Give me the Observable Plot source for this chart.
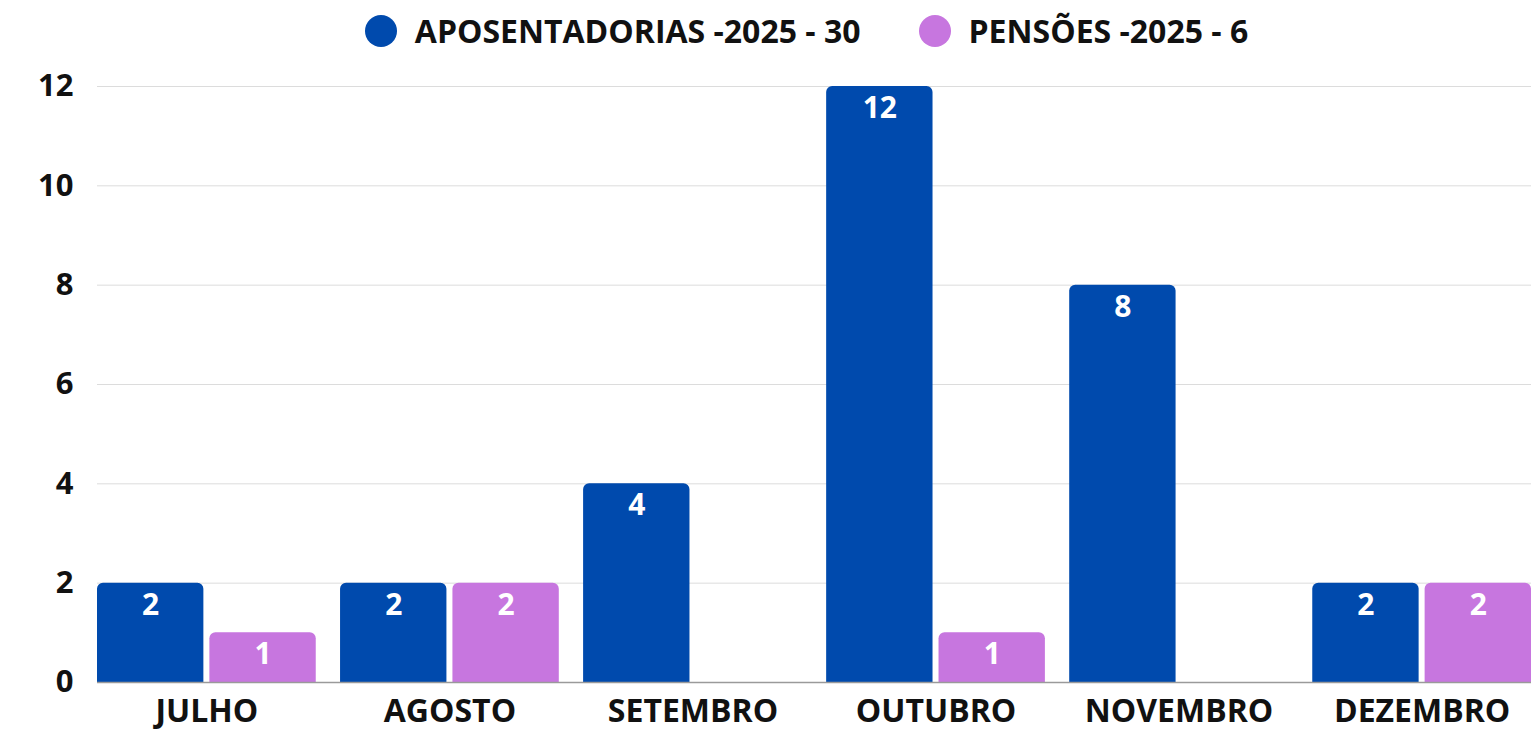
<!DOCTYPE html>
<html>
<head>
<meta charset="utf-8">
<script src="https://cdn.jsdelivr.net/npm/d3@7"></script>
<script src="https://cdn.jsdelivr.net/npm/@observablehq/plot@0.6"></script>
<style>
  html, body { margin: 0; padding: 0; background: #fff; }
  body { width: 1537px; height: 729px; overflow: hidden; font-family: "Open Sans", sans-serif; }
  #legend { height: 60px; display: flex; justify-content: center; align-items: center; gap: 58px; padding-left: 76px; padding-top: 2px; box-sizing: border-box; }
  .item { display: flex; align-items: center; gap: 18px; font-weight: 700; font-size: 32px; color: #111; line-height: 1; }
  .sw { width: 32px; height: 32px; border-radius: 50%; display: inline-block; }
</style>
</head>
<body>
<div id="legend"></div>
<div id="chart"></div>
<script>
const months = ["JULHO", "AGOSTO", "SETEMBRO", "OUTUBRO", "NOVEMBRO", "DEZEMBRO"];
const aposentadorias = [2, 2, 4, 12, 8, 2];
const pensoes = [1, 2, 0, 1, 0, 2];
const seriesNames = ["APOSENTADORIAS -2025 - 30", "PENSÕES -2025 - 6"];
const seriesColors = ["#004AAD", "#C776DF"];
const yTicks = [0, 2, 4, 6, 8, 10, 12];

const rows = [];
months.forEach((m, i) => {
  rows.push({month: m, series: seriesNames[0], value: aposentadorias[i], side: 0});
  rows.push({month: m, series: seriesNames[1], value: pensoes[i], side: 1});
});

// legend
const leg = document.getElementById("legend");
seriesNames.forEach((s, i) => {
  const it = document.createElement("div");
  it.className = "item";
  it.innerHTML = `<span class="sw" style="background:${seriesColors[i]}"></span><span>${s}</span>`;
  leg.appendChild(it);
});

const W = 1537, H = 669;
const mL = 97, mR = 6;
const padIn = 0.1;
const step = (W - mL - mR) / (months.length - padIn);
const bw = step * (1 - padIn);
const gap = 6;
const inset = bw / 2 + gap / 2;
const off = (bw / 2 - gap / 2) / 2 + gap / 2;

const blue = rows.filter(d => d.side === 0);
const pink = rows.filter(d => d.side === 1);
const fs = 31;

const chart = Plot.plot({
  width: W,
  height: H,
  marginLeft: mL,
  marginRight: mR,
  marginTop: 26,
  marginBottom: 47,
  style: {fontFamily: "Open Sans", fontWeight: 700, fontSize: fs + "px", color: "#111", background: "#fff", overflow: "visible"},
  x: {domain: months, paddingInner: padIn, paddingOuter: 0, round: false, label: null},
  y: {domain: [0, 12], ticks: yTicks, label: null},
  color: {domain: seriesNames, range: seriesColors},
  marks: [
    Plot.gridY(yTicks.filter(t => t > 0), {stroke: "#dcdcdc", strokeOpacity: 1}),
    Plot.rectY(blue, {x: "month", y: "value", fill: "series", insetRight: inset, ry2: 6}),
    Plot.rectY(pink.filter(d => d.value > 0), {x: "month", y: "value", fill: "series", insetLeft: inset, ry2: 6}),
    Plot.ruleY([0], {stroke: "#9a9a9a", strokeWidth: 1.5}),
    Plot.text(blue.filter(d => d.value > 0), {x: "month", y: "value", text: d => String(d.value), dx: -off, dy: 22, fill: "white", fontSize: 30, fontWeight: 700}),
    Plot.text(pink.filter(d => d.value > 0), {x: "month", y: "value", text: d => String(d.value), dx: off, dy: 22, fill: "white", fontSize: 30, fontWeight: 700}),
    Plot.axisY({ticks: yTicks, tickSize: 0, tickPadding: 24, fontSize: fs, fontWeight: 700}),
    Plot.axisX({tickSize: 0, tickPadding: 17, fontSize: 32, fontWeight: 700})
  ]
});
document.getElementById("chart").appendChild(chart);
</script>
</body>
</html>
